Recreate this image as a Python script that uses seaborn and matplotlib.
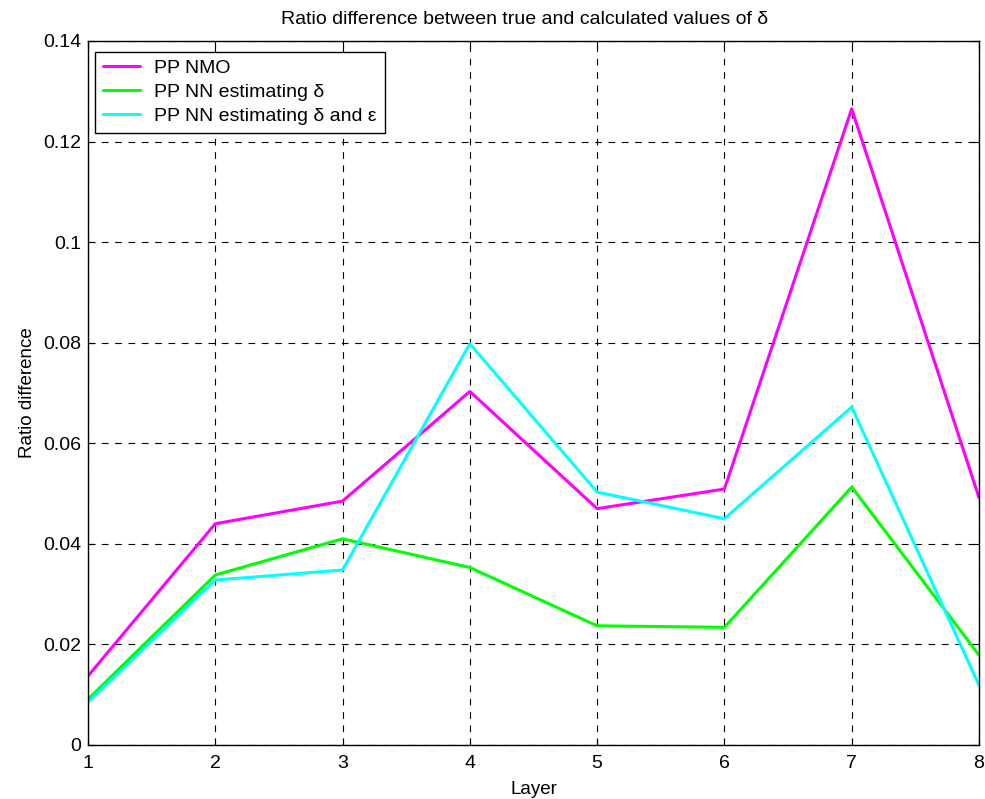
import matplotlib
matplotlib.use("Agg")
import matplotlib.pyplot as plt
import matplotlib.ticker as mticker
import numpy as np
import pandas as pd
import seaborn as sns

layers = [1, 2, 3, 4, 5, 6, 7, 8]
pp_nmo = [0.0137, 0.0440, 0.0485, 0.0703, 0.0470, 0.0509, 0.1265, 0.0492]
pp_nn_delta = [0.0091, 0.0338, 0.0410, 0.0353, 0.0237, 0.0234, 0.0513, 0.0179]
pp_nn_delta_eps = [0.0085, 0.0328, 0.0348, 0.0798, 0.0503, 0.0450, 0.0672, 0.0119]

series_names = ["PP NMO", "PP NN estimating δ", "PP NN estimating δ and ε"]
series_colors = ["#ff00ff", "#00ff00", "#00ffff"]
y_ticks = [0, 0.02, 0.04, 0.06, 0.08, 0.1, 0.12, 0.14]

df = pd.DataFrame({
    "Layer": layers * 3,
    "Ratio difference": pp_nmo + pp_nn_delta + pp_nn_delta_eps,
    "Series": [series_names[0]] * 8 + [series_names[1]] * 8 + [series_names[2]] * 8,
})

sns.set_theme(style="white")
plt.rcParams["font.family"] = ["Liberation Sans", "DejaVu Sans"]
plt.rcParams["text.color"] = "black"
plt.rcParams["axes.labelcolor"] = "black"
plt.rcParams["xtick.color"] = "black"
plt.rcParams["ytick.color"] = "black"

fig = plt.figure(figsize=(9.85, 7.99), dpi=100)
ax = fig.add_axes([0.0893, 0.0676, 0.9046, 0.8811])

sns.lineplot(data=df, x="Layer", y="Ratio difference", hue="Series",
             hue_order=series_names, palette=series_colors,
             linewidth=2.2, ax=ax, legend=True)

ax.set_xlim(1, 8)
ax.set_ylim(0, 0.14)
ax.set_xticks(layers)
ax.set_yticks(y_ticks)
ax.yaxis.set_major_formatter(mticker.FormatStrFormatter("%g"))
ax.tick_params(direction="in", length=5, width=0.8, colors="black",
               labelsize=14, top=True, right=True, bottom=True, left=True)
ax.tick_params(axis="x", pad=7)
ax.tick_params(axis="y", pad=5)
for side in ["top", "right", "bottom", "left"]:
    ax.spines[side].set_color("black")
    ax.spines[side].set_linewidth(1.0)

ax.grid(True, color="black", linestyle=(0, (6, 6)), linewidth=0.8)
ax.set_axisbelow(True)

ax.set_title("Ratio difference between true and calculated values of δ",
             fontsize=14, pad=12, color="black", x=0.49)
ax.set_xlabel("Layer", fontsize=13.5, labelpad=7)
ax.set_ylabel("Ratio difference", fontsize=13.5, labelpad=5)

leg = ax.legend(loc="upper left", fontsize=14, frameon=True, fancybox=False,
                bbox_to_anchor=(0.008, 0.985), borderaxespad=0,
                handlelength=1.9, handletextpad=0.75, borderpad=0.4,
                labelspacing=0.33, title=None)
leg.get_frame().set_edgecolor("black")
leg.get_frame().set_linewidth(1.0)
leg.get_frame().set_alpha(1)
for line in leg.get_lines():
    line.set_linewidth(2.2)
for t in leg.get_texts():
    t.set_color("black")

fig.savefig("out.png", dpi=100)
